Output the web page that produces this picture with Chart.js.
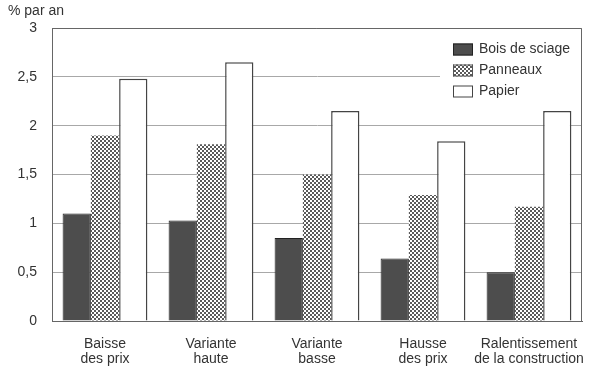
<!DOCTYPE html>
<html>
<head>
<meta charset="utf-8">
<script src="https://cdn.jsdelivr.net/npm/chart.js@4"></script>
<style>
  html, body { margin: 0; padding: 0; background: #fff; }
  #wrap { width: 600px; height: 373px; }
</style>
</head>
<body>
<div id="wrap"><canvas id="chart" width="600" height="373"></canvas></div>
<script>
var categories = [
    ['Baisse', 'des prix'],
    ['Variante', 'haute'],
    ['Variante', 'basse'],
    ['Hausse', 'des prix'],
    ['Ralentissement', 'de la construction']
];
var seriesNames = ['Bois de sciage', 'Panneaux', 'Papier'];
var boisDeSciage = [1.1, 1.03, 0.85, 0.64, 0.5];
var panneaux = [1.9, 1.81, 1.5, 1.29, 1.17];
var papier = [2.48, 2.65, 2.15, 1.84, 2.15];
var yTitle = '% par an';

var textColor = '#333';
var fontFamily = '"Liberation Sans", Arial, sans-serif';

function makeHatch() {
    var c = document.createElement('canvas');
    c.width = 4;
    c.height = 4;
    var g = c.getContext('2d');
    g.fillStyle = '#fff';
    g.fillRect(0, 0, 4, 4);
    g.fillStyle = '#5a5a5a';
    g.fillRect(0, 0, 2, 2);
    g.fillRect(2, 2, 2, 2);
    return g.createPattern(c, 'repeat');
}
var hatch = makeHatch();

// draws the title, the frame and the legend box inside the plot
var extras = {
    id: 'extras',
    afterDatasetsDraw: function(chart) {
        var ctx = chart.ctx;
        var area = chart.chartArea;
        ctx.save();

        ctx.strokeStyle = '#666';
        ctx.lineWidth = 1;
        ctx.beginPath();
        ctx.moveTo(area.left, area.top + 0.5);
        ctx.lineTo(area.right - 0.5, area.top + 0.5);
        ctx.lineTo(area.right - 0.5, area.bottom);
        ctx.stroke();

        // legend
        ctx.fillStyle = '#fff';
        ctx.fillRect(440, area.top + 1, area.right - 441, 80);
        ctx.font = '14px ' + fontFamily;
        ctx.textBaseline = 'middle';
        chart.data.datasets.forEach(function(ds, i) {
            var cy = 49.5 + i * 21;
            ctx.fillStyle = ds.backgroundColor;
            ctx.fillRect(453, cy - 6, 20, 12);
            ctx.strokeStyle = ds.borderColor;
            ctx.lineWidth = 1;
            ctx.strokeRect(453.5, cy - 5.5, 19, 11);
            ctx.fillStyle = textColor;
            ctx.textAlign = 'left';
            ctx.fillText(ds.label, 479, cy);
        });

        ctx.font = '14px ' + fontFamily;
        ctx.fillStyle = textColor;
        ctx.textAlign = 'left';
        ctx.textBaseline = 'alphabetic';
        ctx.fillText(yTitle, 8, 15);
        ctx.restore();
    }
};

var ctx = document.getElementById('chart').getContext('2d');
new Chart(ctx, {
    type: 'bar',
    data: {
        labels: categories,
        datasets: [{
            label: seriesNames[0],
            data: boisDeSciage,
            backgroundColor: '#4d4d4d',
            borderColor: '#222',
            borderWidth: 1
        }, {
            label: seriesNames[1],
            data: panneaux,
            backgroundColor: hatch,
            borderColor: '#555',
            borderWidth: 0
        }, {
            label: seriesNames[2],
            data: papier,
            backgroundColor: '#fff',
            borderColor: '#444',
            borderWidth: 1.5
        }]
    },
    options: {
        responsive: false,
        animation: false,
        layout: { padding: { left: 0, right: 18, top: 28, bottom: 0 } },
        categoryPercentage: 0.8,
        barPercentage: 1.0,
        plugins: {
            legend: { display: false },
            tooltip: { enabled: false }
        },
        scales: {
            x: {
                grid: { display: false },
                border: { display: true, color: '#666', width: 1 },
                ticks: {
                    color: textColor,
                    font: { family: fontFamily, size: 14, lineHeight: 1.05 },
                    padding: 8,
                    maxRotation: 0,
                    autoSkip: false
                },
                afterFit: function(scale) { scale.height = 52; }
            },
            y: {
                min: 0,
                max: 3,
                grid: { color: '#a8a8a8', lineWidth: 1, drawTicks: false },
                border: { display: true, color: '#666', width: 1 },
                ticks: {
                    stepSize: 0.5,
                    color: textColor,
                    padding: 15,
                    font: { family: fontFamily, size: 14 },
                    callback: function(v) { return String(v).replace('.', ','); }
                },
                afterFit: function(scale) { scale.width = 52; }
            }
        }
    },
    plugins: [extras]
});
</script>
</body>
</html>
